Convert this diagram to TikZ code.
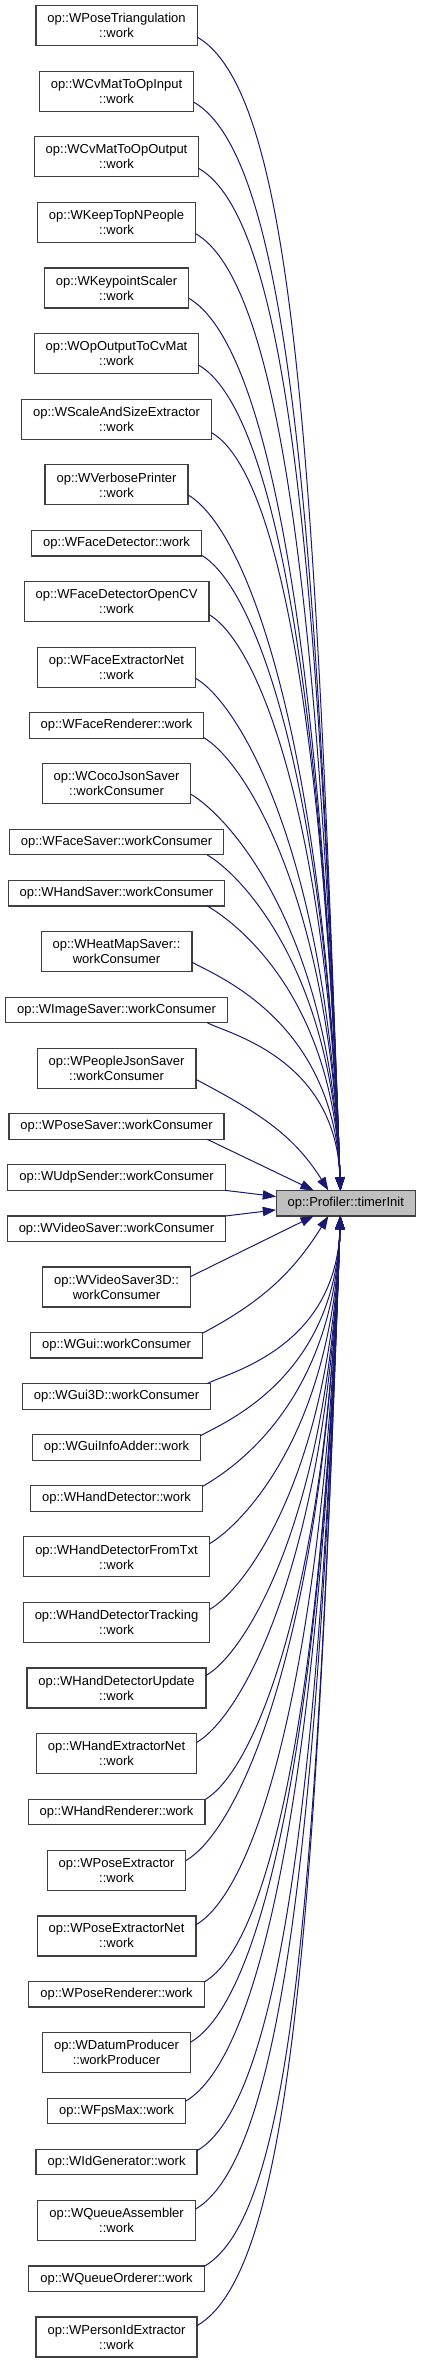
\documentclass[tikz,border=0pt]{standalone}
\usepackage{fontspec}
\setsansfont{Liberation Sans}
\usetikzlibrary{arrows.meta,positioning}
\definecolor{edgeblue}{HTML}{191970}
\definecolor{rim}{HTML}{404040}
\definecolor{hitgray}{HTML}{BFBFBF}
\tikzset{
  caller/.style={draw=rim, line width=0.9pt, fill=white, align=center, outer sep=0pt,
    inner xsep=8.6pt, inner ysep=0pt, minimum height=19.1pt,
    font=\sffamily\fontsize{9.75}{11.25}\selectfont},
  caller2/.style={caller, minimum height=30pt},
  callee/.style={caller, fill=hitgray},
  call/.style={->, edgeblue, line width=0.75pt},
}

\begin{document}
\begin{tikzpicture}[>={Triangle[length=10pt,width=7pt]}, node distance=19.2pt]
  \useasboundingbox (0,0) rectangle (315.75pt,-1773pt);

  % callers, top to bottom
  \node[caller2] (c1) at (87.4pt,-19.25pt) {op::WPoseTriangulation\\::work};
  \node[caller2, below=of c1] (c2) {op::WCvMatToOpInput\\::work};
  \node[caller2, below=of c2] (c3) {op::WCvMatToOpOutput\\::work};
  \node[caller2, below=of c3] (c4) {op::WKeepTopNPeople\\::work};
  \node[caller2, below=of c4] (c5) {op::WKeypointScaler\\::work};
  \node[caller2, below=of c5] (c6) {op::WOpOutputToCvMat\\::work};
  \node[caller2, below=of c6] (c7) {op::WScaleAndSizeExtractor\\::work};
  \node[caller2, below=of c7] (c8) {op::WVerbosePrinter\\::work};
  \node[caller,  below=of c8] (c9) {op::WFaceDetector::work};
  \node[caller2, below=of c9] (c10) {op::WFaceDetectorOpenCV\\::work};
  \node[caller2, below=of c10] (c11) {op::WFaceExtractorNet\\::work};
  \node[caller,  below=of c11] (c12) {op::WFaceRenderer::work};
  \node[caller2, below=of c12] (c13) {op::WCocoJsonSaver\\::workConsumer};
  \node[caller,  below=of c13] (c14) {op::WFaceSaver::workConsumer};
  \node[caller,  below=of c14] (c15) {op::WHandSaver::workConsumer};
  \node[caller2, below=of c15] (c16) {op::WHeatMapSaver::\\workConsumer};
  \node[caller,  below=of c16] (c17) {op::WImageSaver::workConsumer};
  \node[caller2, below=of c17] (c18) {op::WPeopleJsonSaver\\::workConsumer};
  \node[caller,  below=of c18] (c19) {op::WPoseSaver::workConsumer};
  \node[caller,  below=of c19] (c20) {op::WUdpSender::workConsumer};
  \node[caller,  below=of c20] (c21) {op::WVideoSaver::workConsumer};
  \node[caller2, below=of c21] (c22) {op::WVideoSaver3D::\\workConsumer};
  \node[caller,  below=of c22] (c23) {op::WGui::workConsumer};
  \node[caller,  below=of c23] (c24) {op::WGui3D::workConsumer};
  \node[caller,  below=of c24] (c25) {op::WGuiInfoAdder::work};
  \node[caller,  below=of c25] (c26) {op::WHandDetector::work};
  \node[caller2, below=of c26] (c27) {op::WHandDetectorFromTxt\\::work};
  \node[caller2, below=of c27] (c28) {op::WHandDetectorTracking\\::work};
  \node[caller2, below=of c28] (c29) {op::WHandDetectorUpdate\\::work};
  \node[caller2, below=of c29] (c30) {op::WHandExtractorNet\\::work};
  \node[caller,  below=of c30] (c31) {op::WHandRenderer::work};
  \node[caller2, below=of c31] (c32) {op::WPoseExtractor\\::work};
  \node[caller2, below=of c32] (c33) {op::WPoseExtractorNet\\::work};
  \node[caller,  below=of c33] (c34) {op::WPoseRenderer::work};
  \node[caller2, below=of c34] (c35) {op::WDatumProducer\\::workProducer};
  \node[caller,  below=of c35] (c36) {op::WFpsMax::work};
  \node[caller,  below=of c36] (c37) {op::WIdGenerator::work};
  \node[caller2, below=of c37] (c38) {op::WQueueAssembler\\::work};
  \node[caller,  below=of c38] (c39) {op::WQueueOrderer::work};
  \node[caller2, below=of c39] (c40) {op::WPersonIdExtractor\\::work};

  % the called function
  \node[callee] (T) at (259.3pt,-902.4pt) {op::Profiler::timerInit};

  % calls from above
  \foreach \i in {1,...,17}
    \draw[call] (c\i.-8) to[out=-30, in=92, out looseness=.25, in looseness=1.6] ([xshift=-4pt]T.north);
  \draw[call] (c18.-8) to[out=-28, in=122] ([xshift=-13pt]T.north);
  \draw[call] (c19.-8) -- ([xshift=-24pt]T.north);
  \draw[call] (c20.south east) -- ([yshift=5pt]T.west);

  % calls from below
  \draw[call] (c21.north east) -- ([yshift=-5pt]T.west);
  \draw[call] (c22.8) -- ([xshift=-24pt]T.south);
  \draw[call] (c23.8) to[out=28, in=-122] ([xshift=-13pt]T.south);
  \foreach \i in {24,...,40}
    \draw[call] (c\i.8) to[out=30, in=-92, out looseness=.25, in looseness=1.6] ([xshift=-4pt]T.south);
\end{tikzpicture}
\end{document}
